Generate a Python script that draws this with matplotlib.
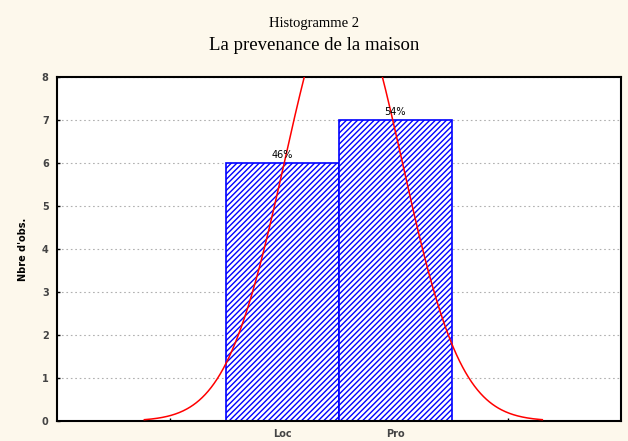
import numpy as np
import matplotlib
matplotlib.use("Agg")
import matplotlib.pyplot as plt

categories = ["Loc", "Pro"]
counts = [6, 7]
percent_labels = ["46%", "54%"]
category_codes = [1, 2]
y_ticks = [0, 1, 2, 3, 4, 5, 6, 7, 8]

plt.rcParams['hatch.color'] = '#0000ff'
plt.rcParams['hatch.linewidth'] = 1.0

bg = '#fdf8ec'
fig = plt.figure(figsize=(6.28, 4.41), dpi=100, facecolor=bg)
ax = fig.add_axes([57/628, 1-421/441, (621-57)/628, (421-77)/441])
ax.set_facecolor('white')

ax.bar(category_codes, counts, width=1.0, facecolor='white', edgecolor='#0000ff',
       hatch='//////', linewidth=1.2, zorder=2)

for x, c, lab in zip(category_codes, counts, percent_labels):
    ax.text(x, c + 0.08, lab, ha='center', va='bottom', fontsize=7, family='DejaVu Sans', zorder=4)

# fitted normal curve from the data
vals = np.repeat(category_codes, counts)
mu = vals.mean()
sd = vals.std(ddof=1)
n = len(vals)
xs = np.linspace(mu - 3.4 * sd, mu + 3.4 * sd, 400)
ys = n * 1.0 * np.exp(-0.5 * ((xs - mu) / sd) ** 2) / (sd * np.sqrt(2 * np.pi))
ax.plot(xs, ys, color='#ff0000', linewidth=1.1, zorder=3, clip_on=True)

ax.set_xlim(-1, 4)
ax.set_ylim(0, 8)
ax.set_xticks([0, 1, 2, 3])
ax.set_xticklabels(["", "Loc", "Pro", ""], fontsize=7, fontweight='bold', color='#444444')
ax.set_yticks(y_ticks)
ax.set_yticklabels([str(v) for v in y_ticks], fontsize=7, fontweight='bold', color='#444444')
ax.tick_params(axis='both', direction='in', length=2, width=1, color='black', pad=6)
ax.yaxis.grid(True, linestyle=(0, (1.5, 2.5)), color='#b0b0b0', linewidth=0.8, zorder=0)
ax.set_axisbelow(True)
for s in ax.spines.values():
    s.set_linewidth(1.5)
    s.set_color('black')

ax.set_ylabel("Nbre d'obs.", fontsize=7, fontweight='bold', labelpad=10)

fig.text(0.5, 1-24/441, "Histogramme 2", ha='center', va='center', fontsize=10.5,
         family='Liberation Serif')
fig.text(0.5, 1-45/441, "La prevenance de la maison", ha='center', va='center', fontsize=13.5,
         family='Liberation Serif')

fig.savefig("out.png", dpi=100, facecolor=bg)
